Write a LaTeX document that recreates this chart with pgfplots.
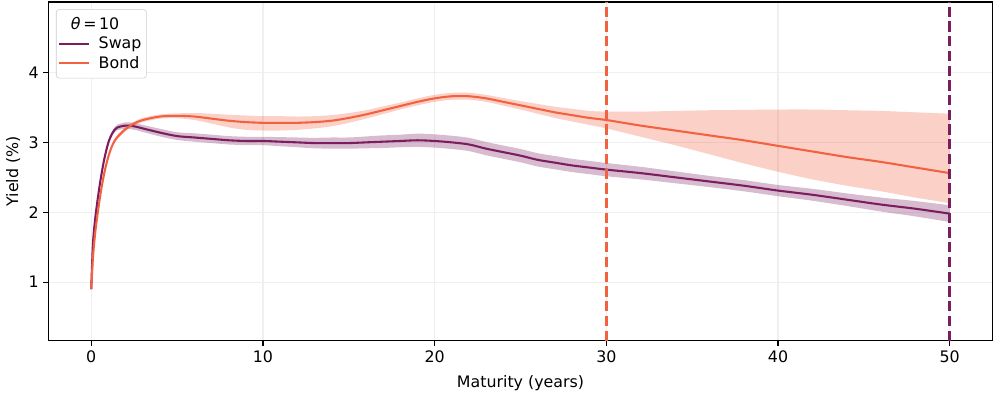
\documentclass[border=0pt]{standalone}
\usepackage{fontspec}
\setmainfont{DejaVu Sans}
\usepackage{pgfplots}
\usepackage{pgfplotstable}
\pgfplotsset{compat=1.18}
\usepgfplotslibrary{fillbetween}

\definecolor{swapc}{HTML}{7C1D5F}
\definecolor{bondc}{HTML}{F26241}
\definecolor{gridc}{HTML}{EFEFEF}

% swap curve: t, lower band, mean, upper band
\pgfplotstableread{
t     lo     mid    hi
0     0.89   0.90   0.91
0.1   1.54   1.55   1.56
0.25  1.935  1.95   1.965
0.5   2.38   2.40   2.42
0.75  2.725  2.75   2.775
1     2.97   3.00   3.03
1.25  3.105  3.14   3.175
1.5   3.17   3.21   3.25
2     3.195  3.24   3.285
2.5   3.18   3.23   3.28
3     3.15   3.20   3.25
4     3.085  3.14   3.195
5     3.035  3.09   3.145
6     3.01   3.07   3.13
7     2.99   3.05   3.11
8     2.97   3.03   3.09
9     2.96   3.02   3.08
10    2.96   3.02   3.08
11    2.945  3.01   3.075
12    2.93   3.00   3.07
13    2.915  2.99   3.065
14    2.91   2.99   3.07
15    2.91   2.99   3.07
16    2.915  3.00   3.085
17    2.92   3.01   3.10
18    2.93   3.02   3.11
19    2.935  3.03   3.125
20    2.925  3.02   3.115
21    2.905  3.00   3.095
22    2.875  2.97   3.065
23    2.815  2.91   3.005
24    2.765  2.86   2.955
25    2.715  2.81   2.905
26    2.655  2.75   2.845
27    2.615  2.71   2.805
28    2.575  2.67   2.765
29    2.545  2.64   2.735
30    2.515  2.61   2.705
32    2.47   2.56   2.65
34    2.415  2.50   2.585
36    2.36   2.44   2.52
38    2.30   2.38   2.46
40    2.23   2.31   2.39
42    2.165  2.25   2.335
44    2.09   2.18   2.27
46    2.01   2.11   2.21
48    1.94   2.05   2.16
50    1.86   1.98   2.10
}\swaptab

% bond curve: t, lower band, mean, upper band
\pgfplotstableread{
t     lo     mid    hi
0     0.89   0.90   0.91
0.1   1.33   1.35   1.37
0.25  1.73   1.75   1.77
0.5   2.18   2.20   2.22
0.75  2.53   2.55   2.57
1     2.78   2.80   2.82
1.25  2.95   2.97   2.99
1.5   3.04   3.07   3.10
2     3.16   3.19   3.22
2.5   3.24   3.27   3.30
3     3.29   3.32   3.35
4     3.34   3.37   3.40
5     3.345  3.38   3.415
6     3.32   3.37   3.42
7     3.27   3.34   3.41
8     3.215  3.31   3.395
9     3.18   3.29   3.385
10    3.17   3.28   3.375
11    3.17   3.28   3.375
12    3.18   3.28   3.37
13    3.20   3.29   3.375
14    3.23   3.31   3.39
15    3.28   3.35   3.42
16    3.34   3.40   3.46
17    3.405  3.46   3.515
18    3.47   3.52   3.57
19    3.53   3.58   3.63
20    3.58   3.63   3.68
21    3.61   3.66   3.71
22    3.61   3.66   3.71
23    3.58   3.63   3.68
24    3.525  3.58   3.635
25    3.47   3.53   3.59
26    3.41   3.48   3.55
27    3.35   3.43   3.51
28    3.30   3.39   3.48
29    3.25   3.35   3.45
30    3.20   3.32   3.44
32    3.08   3.24   3.44
34    2.96   3.17   3.45
36    2.83   3.10   3.46
38    2.70   3.03   3.465
40    2.58   2.95   3.47
42    2.47   2.87   3.47
44    2.38   2.79   3.46
46    2.30   2.72   3.45
48    2.21   2.64   3.43
50    2.13   2.56   3.41
}\bondtab

\begin{document}
\begin{tikzpicture}
\begin{axis}[
    scale only axis,
    width=680bp, height=244bp,
    xmin=-2.5, xmax=52.5,
    ymin=0.16, ymax=5.01,
    xtick={0,10,20,30,40,50},
    ytick={1,2,3,4},
    tick pos=left,
    tick align=outside,
    major tick length=3.5bp,
    tick style={black, line width=0.8bp},
    axis line style={black, line width=1bp},
    grid=major,
    major grid style={gridc, line width=0.8bp},
    font=\fontsize{11.4bp}{13.7bp}\selectfont,
    /pgf/number format/assume math mode=true,
    ticklabel style={font=\fontsize{11.4bp}{13.7bp}\selectfont},
    xlabel={Maturity (years)},
    ylabel={Yield (\%)},
    every axis x label/.style={at={(axis description cs:0.5,0)}, yshift=-30.2bp, anchor=center},
    every axis y label/.style={at={(axis description cs:0,0.5)}, xshift=-25.4bp, rotate=90, anchor=center},
    legend style={
        at={(axis description cs:0,1)}, anchor=north west,
        xshift=5.5bp, yshift=-5.3bp,
        draw=black!20, rounded corners=2bp, fill=white,
        font=\fontsize{11.4bp}{13.7bp}\selectfont,
        inner xsep=1.5bp, inner ysep=3.5bp, row sep=0bp,
        cells={anchor=west},
        /tikz/every odd column/.append style={column sep=4bp},
    },
    legend image code/.code={\draw[#1] (0bp,0bp) -- (21.6bp,0bp);},
]
\addlegendimage{empty legend}
\addlegendentry{\hspace*{-20bp}\textit{θ}\,=\,10}

% swap band and line
\addplot[name path=slo, draw=none, forget plot, smooth] table[x=t, y=lo] {\swaptab};
\addplot[name path=shi, draw=none, forget plot, smooth] table[x=t, y=hi] {\swaptab};
\addplot[swapc, fill opacity=0.3, draw=none, forget plot] fill between[of=shi and slo];
\addplot[swapc, line width=1.5bp, smooth] table[x=t, y=mid] {\swaptab};
\addlegendentry{Swap}

% bond band and line
\addplot[name path=blo, draw=none, forget plot, smooth] table[x=t, y=lo] {\bondtab};
\addplot[name path=bhi, draw=none, forget plot, smooth] table[x=t, y=hi] {\bondtab};
\addplot[bondc, fill opacity=0.3, draw=none, forget plot] fill between[of=bhi and blo];
\addplot[bondc, line width=1.5bp, smooth] table[x=t, y=mid] {\bondtab};
\addlegendentry{Bond}

% tenor limits
\addplot[bondc, line width=2bp, dash pattern=on 7.4bp off 3.2bp, forget plot] coordinates {(30,0.16) (30,5.01)};
\addplot[swapc, line width=2bp, dash pattern=on 7.4bp off 3.2bp, forget plot] coordinates {(50,0.16) (50,5.01)};
\end{axis}
\pgfresetboundingbox
\path[use as bounding box] ([shift={(-34.8bp,-38.9bp)}]current axis.south west) rectangle ([shift={(2.4bp,1.4bp)}]current axis.north east);
\end{tikzpicture}
\end{document}
